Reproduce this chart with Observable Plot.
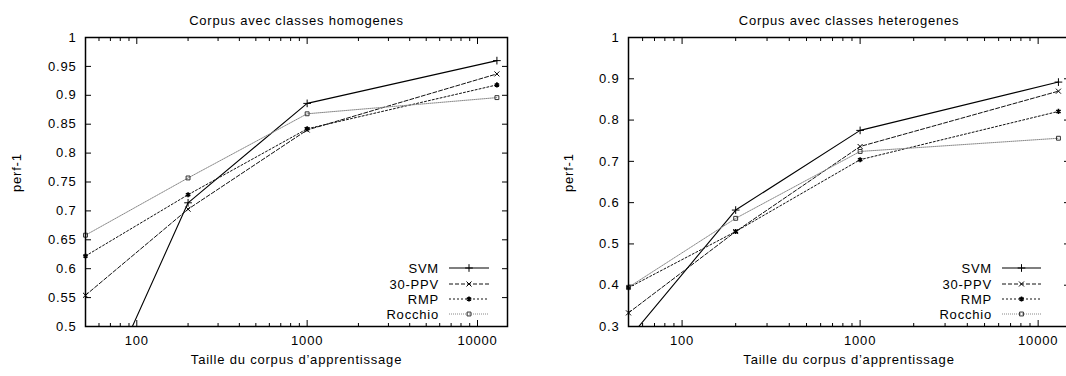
<!DOCTYPE html>
<html><head><meta charset="utf-8">
<script src="https://cdn.jsdelivr.net/npm/d3@7"></script>
<script src="https://cdn.jsdelivr.net/npm/@observablehq/plot@0.6"></script>
<style>
html,body{margin:0;padding:0;background:#fff;overflow:hidden;width:1066px;height:376px}
#wrap{position:relative;width:1066px;height:376px;overflow:hidden}
.panel{position:absolute;top:0}
svg text{font-family:"Liberation Sans",Arial,Helvetica,sans-serif !important;font-size:13px !important;letter-spacing:0.8px}
</style></head><body><div id="wrap"></div>
<script>
// ---- data ----
const sizes = [50, 200, 1000, 13000];
const seriesNames = ["SVM", "30-PPV", "RMP", "Rocchio"];
const homSVM     = [0.32, 0.714, 0.886, 0.960];
const homPPV     = [0.554, 0.703, 0.840, 0.937];
const homRMP     = [0.622, 0.728, 0.842, 0.918];
const homRocchio = [0.658, 0.757, 0.868, 0.896];
const hetSVM     = [0.27, 0.582, 0.775, 0.892];
const hetPPV     = [0.333, 0.530, 0.736, 0.870];
const hetRMP     = [0.394, 0.530, 0.704, 0.821];
const hetRocchio = [0.395, 0.562, 0.724, 0.756];
const homYTicks = [0.5, 0.55, 0.6, 0.65, 0.7, 0.75, 0.8, 0.85, 0.9, 0.95, 1];
const hetYTicks = [0.3, 0.4, 0.5, 0.6, 0.7, 0.8, 0.9, 1];
const xTicks = [100, 1000, 10000];
const xMinorTicks = [60, 70, 80, 90, 200, 300, 400, 500, 600, 700, 800, 900,
  2000, 3000, 4000, 5000, 6000, 7000, 8000, 9000];
const xLabel = "Taille du corpus d\u2019apprentissage";
const yLabel = "perf-1";

// ---- styles ----
const styles = {
  "SVM":     {stroke: "#000", dash: null,  symbol: "plus",     sw: 1.1},
  "30-PPV":  {stroke: "#111", dash: "4,2", symbol: "times",    sw: 1},
  "RMP":     {stroke: "#111", dash: "2,2", symbol: "asterisk", sw: 1},
  "Rocchio": {stroke: "#888", dash: "1,1", symbol: "square",   sw: 1}
};
const markR = {plus: 2.6, times: 2.4, asterisk: 2.4, square: 2.2};

function tidy(arrs) {
  const rows = [];
  seriesNames.forEach((s, i) => arrs[i].forEach((v, j) => rows.push({series: s, size: sizes[j], value: v})));
  return rows;
}

function panel({title, arrs, yDomain, yTicks, width, marginLeft, marginRight, yLabelDx, legend, left}) {
  const data = tidy(arrs);
  const ymin = yDomain[0];
  const marks = [];
  marks.push(Plot.axisX(xTicks, {anchor: "bottom", tickSize: -6, fill: "none", label: null}));
  marks.push(Plot.axisX(xTicks, {anchor: "top", tickSize: -6, fill: "none", label: null}));
  marks.push(Plot.axisX(xMinorTicks, {anchor: "bottom", tickSize: -3, fill: "none", label: null}));
  marks.push(Plot.axisX(xMinorTicks, {anchor: "top", tickSize: -3, fill: "none", label: null}));
  marks.push(Plot.axisY(yTicks, {anchor: "left", tickSize: -6, fill: "none", label: null}));
  marks.push(Plot.axisY(yTicks, {anchor: "right", tickSize: -6, fill: "none", label: null}));
  marks.push(Plot.axisX(xTicks, {anchor: "bottom", tickSize: 0, tickPadding: 9, label: null, tickFormat: d => String(d)}));
  marks.push(Plot.axisY(yTicks, {anchor: "left", tickSize: 0, tickPadding: 9, label: null, tickFormat: d => String(+d.toFixed(2))}));
  for (const s of seriesNames) {
    const st = styles[s];
    const sd = data.filter(d => d.series === s);
    marks.push(Plot.line(sd, {x: "size", y: "value", stroke: st.stroke, strokeWidth: st.sw, strokeDasharray: st.dash, clip: true}));
    marks.push(Plot.dot(sd.filter(d => d.value >= ymin), {x: "size", y: "value", symbol: () => st.symbol, r: markR[st.symbol], stroke: st.symbol === "square" ? "#333" : "#000", fill: "none", strokeWidth: st.symbol === "asterisk" ? 1.6 : 1}));
  }
  marks.push(Plot.frame({stroke: "#000", strokeWidth: 1.5}));
  marks.push(Plot.text([title], {frameAnchor: "top", dy: -22, text: d => d, fontSize: 13}));
  marks.push(Plot.text([xLabel], {frameAnchor: "bottom", dy: 37, text: d => d, fontSize: 13}));
  marks.push(Plot.text([yLabel], {frameAnchor: "left", dx: yLabelDx, dy: 10, rotate: -90, text: d => d, fontSize: 13}));

  const chart = Plot.plot({
    width, height: 376,
    marginTop: 37, marginBottom: 50, marginLeft, marginRight,
    x: {type: "log", domain: [50, 15000]},
    y: {domain: yDomain},
    symbol: {type: "identity"},
    style: {fontSize: "13px", color: "#000", background: "#fff", overflow: "visible"},
    marks
  });

  const svg = d3.select(chart);
  const g = svg.append("g");
  const rowY = [268, 284, 299, 314];
  seriesNames.forEach((s, i) => {
    const st = styles[s];
    const y = rowY[i];
    g.append("text").attr("x", legend.textEnd).attr("y", y).attr("text-anchor", "end")
      .attr("dy", "0.35em").attr("fill", "#000").text(s);
    g.append("line").attr("x1", legend.x1).attr("x2", legend.x2).attr("y1", y).attr("y2", y)
      .attr("stroke", st.stroke).attr("stroke-width", st.sw).attr("stroke-dasharray", st.dash);
    const sym = {plus: d3.symbolPlus, times: d3.symbolTimes, asterisk: d3.symbolAsterisk, square: d3.symbolSquare}[st.symbol];
    const rr = markR[st.symbol];
    g.append("path").attr("d", d3.symbol(sym, rr * rr * Math.PI)())
      .attr("transform", `translate(${(legend.x1 + legend.x2) / 2},${y})`)
      .attr("fill", "none").attr("stroke", st.symbol === "square" ? "#333" : "#000")
      .attr("stroke-width", st.symbol === "asterisk" ? 1.6 : 1);
  });

  chart.classList.add("panel");
  chart.style.left = left + "px";
  return chart;
}

const wrap = document.getElementById("wrap");
wrap.appendChild(panel({
  title: "Corpus avec classes homogenes",
  arrs: [homSVM, homPPV, homRMP, homRocchio],
  yDomain: [0.5, 1], yTicks: homYTicks,
  width: 533, marginLeft: 85, marginRight: 26, yLabelDx: -69,
  legend: {textEnd: 439, x1: 449, x2: 489}, left: 0
}));
wrap.appendChild(panel({
  title: "Corpus avec classes heterogenes",
  arrs: [hetSVM, hetPPV, hetRMP, hetRocchio],
  yDomain: [0.3, 1], yTicks: hetYTicks,
  width: 545, marginLeft: 95, marginRight: 9, yLabelDx: -60,
  legend: {textEnd: 459, x1: 469, x2: 508}, left: 533
}));
</script>
</body></html>
